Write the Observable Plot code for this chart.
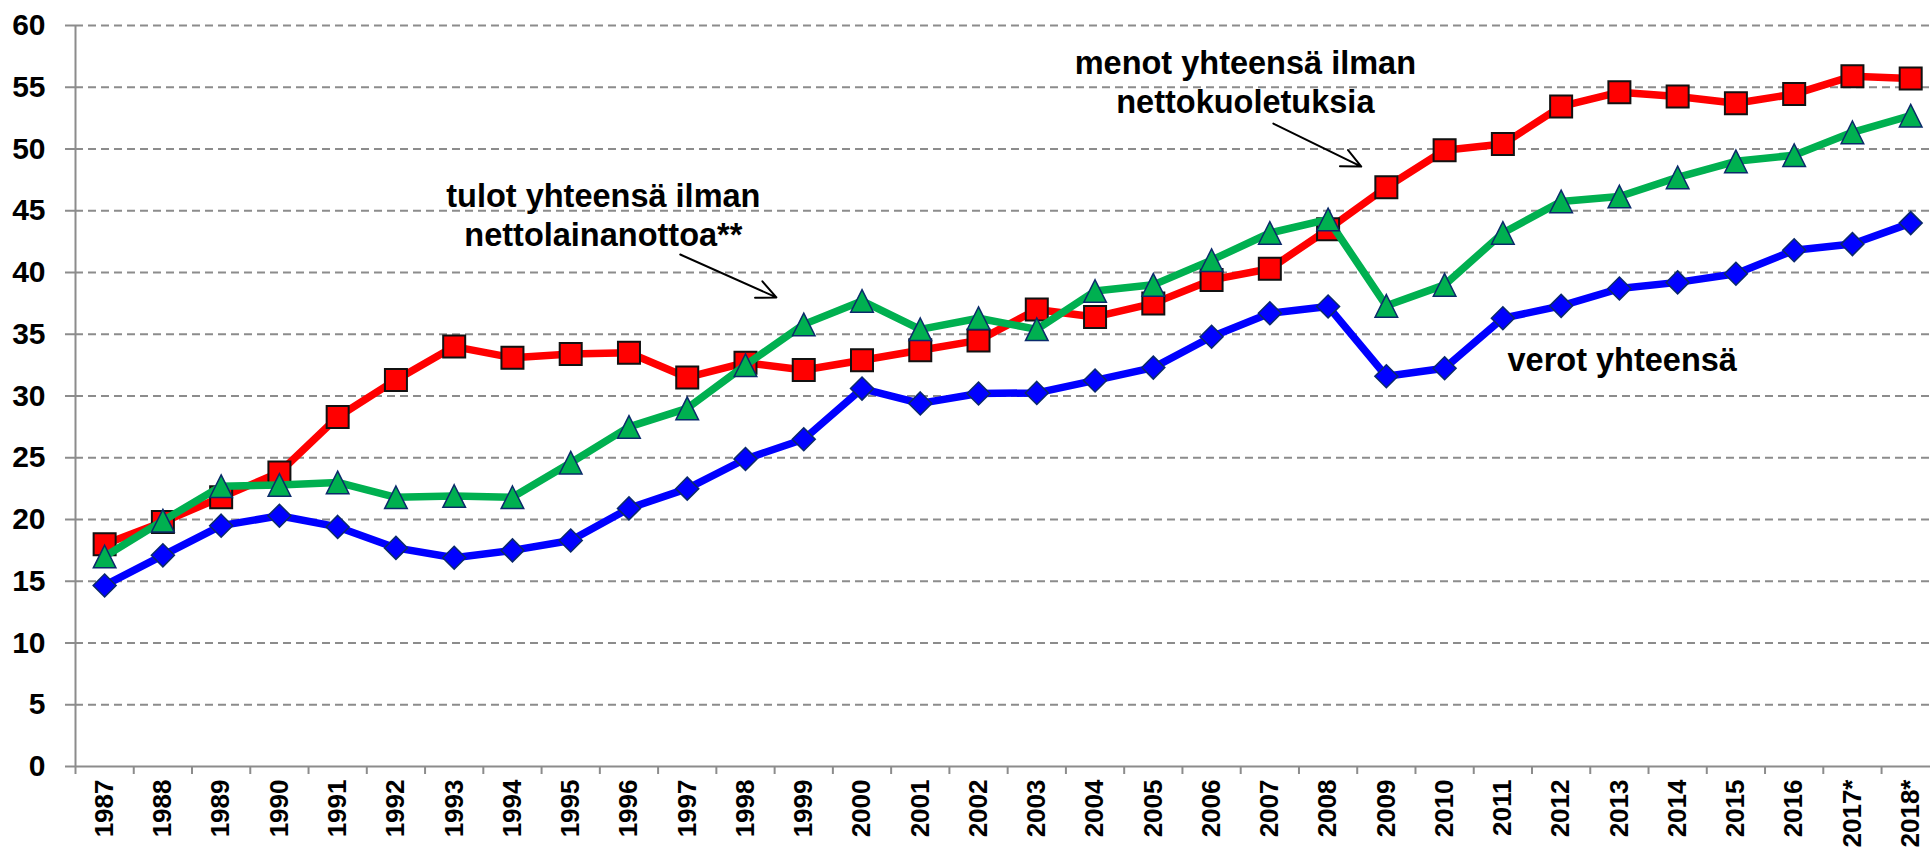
<!DOCTYPE html>
<html>
<head>
<meta charset="utf-8">
<script src="https://cdn.jsdelivr.net/npm/d3@7"></script>
<script src="https://cdn.jsdelivr.net/npm/@observablehq/plot@0.6"></script>
<style>
  html, body { margin: 0; padding: 0; background: white; overflow: hidden; }
  #chart svg { display: block; }
</style>
</head>
<body>
<div id="chart"></div>
<script>
const years = ["1987","1988","1989","1990","1991","1992","1993","1994","1995","1996",
  "1997","1998","1999","2000","2001","2002","2003","2004","2005","2006","2007","2008",
  "2009","2010","2011","2012","2013","2014","2015","2016","2017*","2018*"];

// menot yhteensä ilman nettokuoletuksia
const menot = [18.0, 19.8, 21.8, 23.8, 28.3, 31.3, 34.0, 33.1, 33.4, 33.5,
  31.5, 32.7, 32.1, 32.9, 33.7, 34.5, 37.0, 36.4, 37.5, 39.4, 40.3, 43.5,
  46.9, 49.9, 50.4, 53.45, 54.6, 54.25, 53.7, 54.45, 55.9, 55.7];

// tulot yhteensä ilman nettolainanottoa**
const tulot = [17.0, 19.9, 22.7, 22.8, 23.0, 21.8, 21.9, 21.8, 24.6, 27.5,
  29.0, 32.5, 35.8, 37.7, 35.4, 36.3, 35.4, 38.5, 39.0, 41.0, 43.2, 44.3,
  37.3, 39.0, 43.2, 45.75, 46.15, 47.7, 49.0, 49.5, 51.35, 52.7];

// verot yhteensä
const verot = [14.66, 17.1, 19.5, 20.3, 19.4, 17.7, 16.9, 17.5, 18.3, 20.9,
  22.5, 24.9, 26.5, 30.6, 29.4, 30.2, 30.25, 31.26, 32.3, 34.8, 36.7, 37.25,
  31.6, 32.25, 36.3, 37.3, 38.7, 39.2, 39.9, 41.8, 42.3, 44.0];

const yTicks = [0, 5, 10, 15, 20, 25, 30, 35, 40, 45, 50, 55, 60];

const rows = series => years.map((year, i) => ({i: i + 0.5, year, v: series[i]}));

const r = s => Math.sqrt(s / Math.PI);
const squareSym = {draw(ctx, size) { const h = r(size); ctx.rect(-h, -h, 2 * h, 2 * h); }};
const triSym = {draw(ctx, size) { const h = r(size); ctx.moveTo(0, -h); ctx.lineTo(h, h); ctx.lineTo(-h, h); ctx.closePath(); }};
const diaSym = {draw(ctx, size) { const h = r(size); ctx.moveTo(0, -h); ctx.lineTo(h, 0); ctx.lineTo(0, h); ctx.lineTo(-h, 0); ctx.closePath(); }};

const FONT = "Liberation Sans, Arial, Helvetica, sans-serif";
const bandTicks = d3.range(0, years.length);
const centerTicks = d3.range(0, years.length).map(i => i + 0.5);

const chart = Plot.plot({
  width: 1930,
  height: 848,
  marginLeft: 75,
  marginRight: 0,
  marginTop: 25,
  marginBottom: 82,
  style: {fontFamily: FONT, background: "white", overflow: "visible"},
  x: {type: "linear", domain: [0, 31.84], axis: null},
  y: {domain: [0, 60], axis: null},
  marks: [
    Plot.gridY(yTicks.filter(d => d > 0), {stroke: "#8c8c8c", strokeOpacity: 1, strokeWidth: 2, strokeDasharray: "8,5"}),
    Plot.axisY(yTicks, {tickSize: 10, tickPadding: 20, stroke: "#8c8c8c", strokeWidth: 2, fill: "black",
      fontSize: 30, fontWeight: "bold", label: null}),
    Plot.axisX(bandTicks, {tickSize: 8, tickFormat: () => "", stroke: "#8c8c8c", strokeWidth: 2, label: null}),
    Plot.axisX(centerTicks, {tickSize: 0, tickPadding: 13, tickRotate: -90, tickFormat: d => years[Math.floor(d)],
      fill: "black", fontSize: 26, fontWeight: "bold", label: null}),
    Plot.ruleX([0], {stroke: "#8c8c8c", strokeWidth: 2}),
    Plot.ruleY([0], {stroke: "#8c8c8c", strokeWidth: 2}),

    Plot.line(rows(verot), {x: "i", y: "v", stroke: "#0000FF", strokeWidth: 7.5}),
    Plot.dot(rows(verot), {x: "i", y: "v", symbol: diaSym, r: 11.5, fill: "#0000FF", stroke: "#0b2a6b", strokeWidth: 1.5}),
    Plot.line(rows(menot), {x: "i", y: "v", stroke: "#FF0000", strokeWidth: 7.5}),
    Plot.dot(rows(menot), {x: "i", y: "v", symbol: squareSym, r: 11, fill: "#FF0000", stroke: "#111", strokeWidth: 2}),
    Plot.line(rows(tulot), {x: "i", y: "v", stroke: "#00B050", strokeWidth: 7.5}),
    Plot.dot(rows(tulot), {x: "i", y: "v", symbol: triSym, r: 11.3, fill: "#00B050", stroke: "#0b2a6b", strokeWidth: 1.5}),

    Plot.text([0], {x: () => 20.08, y: () => 55.47, text: () => "menot yhteensä ilman\nnettokuoletuksia",
      textAnchor: "middle", lineHeight: 1.2, fontSize: 32.5, fontWeight: "bold", fill: "black"}),
    Plot.arrow([0], {x1: () => 20.56, y1: () => 52.06, x2: () => 22.07, y2: () => 48.58,
      stroke: "black", strokeWidth: 2, headLength: 16, headAngle: 50, bend: 0}),
    Plot.text([0], {x: () => 9.06, y: () => 44.7, text: () => "tulot yhteensä ilman\nnettolainanottoa**",
      textAnchor: "middle", lineHeight: 1.2, fontSize: 32.5, fontWeight: "bold", fill: "black"}),
    Plot.arrow([0], {x1: () => 10.38, y1: () => 41.46, x2: () => 12.03, y2: () => 37.98,
      stroke: "black", strokeWidth: 2, headLength: 16, headAngle: 50, bend: 0}),
    Plot.text([0], {x: () => 24.58, y: () => 32.87, text: () => "verot yhteensä",
      textAnchor: "start", fontSize: 32.5, fontWeight: "bold", fill: "black"})
  ]
});
chart.style.maxWidth = "none";
document.getElementById("chart").appendChild(chart);
</script>
</body>
</html>
